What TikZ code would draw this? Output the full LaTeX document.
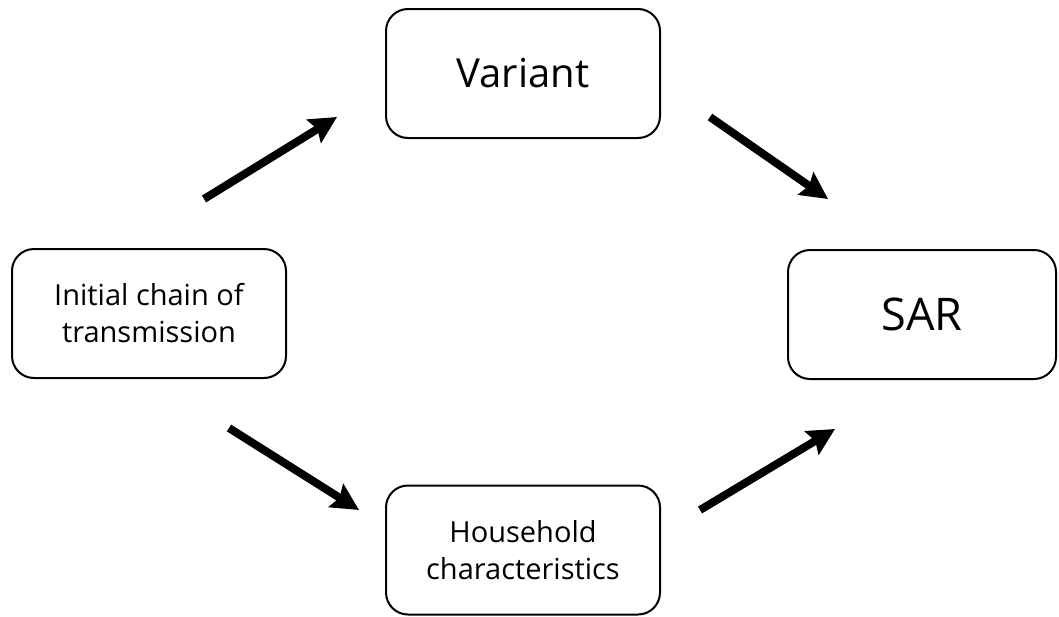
\documentclass[tikz,border=0pt]{standalone}
\usepackage{fontspec}
\setmainfont{Open Sans}
\usetikzlibrary{arrows.meta}
\begin{document}
\begin{tikzpicture}[x=1pt,y=-1pt,
  box/.style={draw,line width=2pt,rounded corners=22pt,minimum width=274pt,minimum height=129pt,align=center,inner sep=0pt},
  arr/.style={line width=8pt,-{Stealth[length=27pt,width=27pt,inset=4pt]}}]
\useasboundingbox (0,0) rectangle (1059,616);
\node[box,font=\fontsize{40}{48}\selectfont] (var) at (523,73.5) {Variant};
\node[box,font=\fontsize{29}{37}\selectfont] (init) at (149,313.5) {Initial chain of\\transmission};
\node[box,font=\fontsize{45}{54}\selectfont,minimum width=268pt] (sar) at (922,314.5) {SAR};
\node[box,font=\fontsize{29}{37}\selectfont] (hh) at (523,550) {Household\\characteristics};
\coordinate (a1s) at (204,199); \coordinate (a1e) at (337,117);
\coordinate (a2s) at (710,117); \coordinate (a2e) at (828,199);
\coordinate (a3s) at (229,428); \coordinate (a3e) at (359,510);
\coordinate (a4s) at (700,510); \coordinate (a4e) at (835,429);
\draw[arr] (a1s) -- (a1e);
\draw[arr] (a2s) -- (a2e);
\draw[arr] (a3s) -- (a3e);
\draw[arr] (a4s) -- (a4e);
\end{tikzpicture}
\end{document}
